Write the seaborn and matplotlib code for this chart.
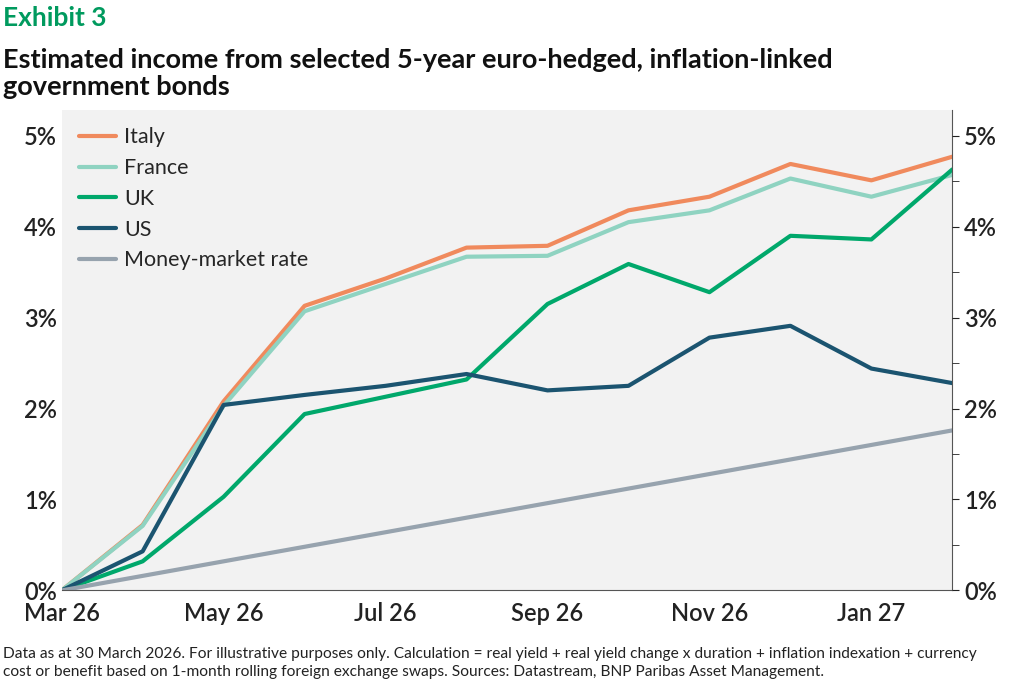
import matplotlib
matplotlib.use("Agg")
import matplotlib.pyplot as plt
import matplotlib.ticker as mt
import pandas as pd
import seaborn as sns

sns.set_style("white")
plt.rcParams['font.family'] = ['Lato', 'DejaVu Sans']

months = ["Mar 26", "Apr 26", "May 26", "Jun 26", "Jul 26", "Aug 26", "Sep 26",
          "Oct 26", "Nov 26", "Dec 26", "Jan 27", "Feb 27"]
italy = [0, 0.72, 2.08, 3.13, 3.43, 3.77, 3.79, 4.18, 4.33, 4.69, 4.51, 4.77]
france = [0, 0.71, 2.03, 3.07, 3.37, 3.67, 3.68, 4.05, 4.18, 4.53, 4.33, 4.57]
uk = [0, 0.32, 1.03, 1.94, 2.13, 2.32, 3.15, 3.59, 3.28, 3.90, 3.86, 4.63]
us = [0, 0.43, 2.04, 2.15, 2.25, 2.38, 2.20, 2.25, 2.78, 2.91, 2.44, 2.28]
mm = [0, 0.16, 0.32, 0.48, 0.64, 0.80, 0.96, 1.12, 1.28, 1.44, 1.60, 1.76]

series = {"Italy": italy, "France": france, "UK": uk, "US": us, "Money-market rate": mm}
colors = {"Italy": "#F08A5D", "France": "#8FD3C1", "UK": "#00A86B",
          "US": "#1B5470", "Money-market rate": "#97A3AE"}

df = pd.DataFrame([{"x": i, "series": k, "v": v}
                   for k, vals in series.items() for i, v in enumerate(vals)])

fig = plt.figure(figsize=(10.11, 6.81), dpi=100)
ax = fig.add_axes([0.061, 0.133, 0.881, 0.705])
ax.set_facecolor("#F2F2F2")
sns.lineplot(data=df, x="x", y="v", hue="series", palette=colors, linewidth=3, ax=ax)

ax.set_xlim(0, 11)
ax.set_ylim(0, 5.28)
ax.set_xticks(range(0, 11, 2))
ax.set_xticklabels(months[0:11:2])
ax.yaxis.set_major_formatter(mt.FuncFormatter(lambda v, p: f"{v:.0f}%"))
ax.set_yticks(range(6))
ax.set_xlabel(""); ax.set_ylabel("")
for s in ax.spines.values():
    s.set_visible(False)
ax.spines["bottom"].set_visible(True)
ax.spines["bottom"].set_color("#555555")
ax.spines["right"].set_visible(True)
ax.spines["right"].set_color("#555555")
ax.tick_params(axis="both", labelsize=17, length=0, colors="#222222")
ax.tick_params(axis="x", pad=8)
for t in ax.get_xticklabels() + ax.get_yticklabels():
    t.set_fontweight("semibold")

ax2 = ax.twinx()
ax2.set_ylim(ax.get_ylim())
ax2.set_yticks(range(6))
ax2.yaxis.set_major_formatter(mt.FuncFormatter(lambda v, p: f"{v:.0f}%"))
ax2.yaxis.set_minor_locator(mt.MultipleLocator(0.5))
ax2.tick_params(axis="y", which="both", labelsize=17, length=5, colors="#222222")
for t in ax2.get_yticklabels():
    t.set_fontweight("semibold")
for s in ax2.spines.values():
    s.set_visible(False)

leg = ax.legend(loc="upper left", bbox_to_anchor=(-0.002, 1.005), frameon=False,
                fontsize=15.5, handlelength=1.7, handletextpad=0.4, labelspacing=0.5)
for line in leg.get_lines():
    line.set_linewidth(3)

fig.text(0.003, 0.962, "Exhibit 3", fontsize=19, fontweight="bold", color="#009A5E")
fig.text(0.003, 0.86, "Estimated income from selected 5-year euro-hedged, inflation-linked\ngovernment bonds",
         fontsize=19.5, fontweight="bold", color="#111111", linespacing=1.15)
fig.text(0.003, 0.008, "Data as at 30 March 2026. For illustrative purposes only. Calculation = real yield + real yield change x duration + inflation indexation + currency\n"
         "cost or benefit based on 1-month rolling foreign exchange swaps. Sources: Datastream, BNP Paribas Asset Management.",
         fontsize=11.2, color="#222222", linespacing=1.3)

fig.savefig("out.png", dpi=100, facecolor="white")
